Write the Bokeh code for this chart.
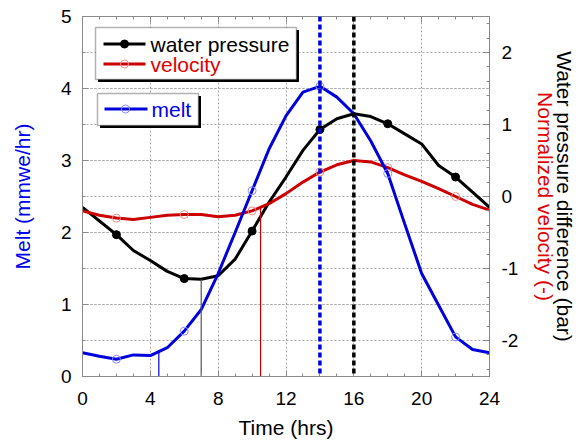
import numpy as np
from bokeh.plotting import figure
from bokeh.models import Range1d, LinearAxis, FixedTicker, Span, BoxAnnotation, Label, Arrow
from bokeh.embed import file_html
from bokeh.resources import INLINE

# ---------------- data ----------------
hours = list(range(25))
melt = [0.33, 0.28, 0.24, 0.30, 0.29, 0.40, 0.63, 0.93, 1.43, 2.00, 2.58, 3.16, 3.62,
        3.95, 4.03, 3.88, 3.65, 3.27, 2.82, 2.12, 1.43, 0.99, 0.55, 0.375, 0.33]
water_pressure = [-0.15, -0.34, -0.53, -0.75, -0.89, -1.04, -1.14, -1.15, -1.10, -0.87, -0.48,
                  -0.08, 0.27, 0.64, 0.93, 1.08, 1.15, 1.11, 1.01, 0.87, 0.73, 0.43, 0.27, 0.06, -0.15]
velocity = [-0.20, -0.26, -0.30, -0.32, -0.29, -0.26, -0.25, -0.25, -0.28, -0.26, -0.20, -0.10,
            0.04, 0.20, 0.34, 0.44, 0.50, 0.48, 0.40, 0.30, 0.21, 0.11, 0.00, -0.11, -0.19]
marker_hours = [2, 6, 10, 14, 18, 22]
onset_melt = 4.5
onset_pressure = 7.0
onset_velocity = 10.5
peak_melt = 14
peak_pressure = 16
x_ticks = [0, 4, 8, 12, 16, 20, 24]
left_ticks = [0, 1, 2, 3, 4, 5]
right_ticks = [-2, -1, 0, 1, 2]
right_tick_labels = ["-2", "-1", "0", "1", "2"]

# ---------------- style ----------------
FONT = "Liberation Sans"
BLUE = "#0000dd"
BLUE_TXT = "#0000ee"
RED = "#cc0000"
RED_TXT = "#e00000"
BLACK = "#000000"
AXIS_GRAY = "#8a8a8a"
GRID_GRAY = "#a8a8a8"

W, H = 578, 441
MB_L, MB_R, MB_T, MB_B = 82, 89, 16, 65
FW = W - MB_L - MB_R
FH = H - MB_T - MB_B

p = figure(width=W, height=H, x_range=Range1d(0, 24), y_range=Range1d(0, 5),
           output_backend="svg", toolbar_location=None,
           min_border_left=MB_L, min_border_right=MB_R, min_border_top=MB_T, min_border_bottom=MB_B)
p.extra_y_ranges = {"right": Range1d(-2.5, 2.5)}
p.outline_line_color = AXIS_GRAY
p.background_fill_color = "white"
p.border_fill_color = "white"

# grid
p.xgrid.ticker = FixedTicker(ticks=x_ticks)
p.ygrid.ticker = FixedTicker(ticks=left_ticks, minor_ticks=[v / 2 for v in range(11)])
for g in (p.xgrid[0], p.ygrid[0]):
    g.grid_line_color = GRID_GRAY
    g.grid_line_dash = "2 2"
    g.grid_line_width = 1
p.ygrid.minor_grid_line_color = GRID_GRAY
p.ygrid.minor_grid_line_dash = "2 2"


def style_axis(ax):
    ax.axis_line_color = AXIS_GRAY
    ax.major_tick_line_color = AXIS_GRAY
    ax.minor_tick_line_color = AXIS_GRAY
    ax.major_tick_in = 6
    ax.major_tick_out = 0
    ax.minor_tick_in = 3
    ax.minor_tick_out = 0
    ax.major_label_text_font = FONT
    ax.major_label_text_font_size = "19px"
    ax.major_label_text_color = "black"
    ax.axis_label_text_font = FONT
    ax.axis_label_text_font_size = "21px"
    ax.axis_label_text_font_style = "normal"


xa = p.xaxis[0]
style_axis(xa)
xa.ticker = FixedTicker(ticks=x_ticks, minor_ticks=hours)
xa.axis_label = "Time (hrs)"
xa.axis_label_text_color = "black"
xa.major_label_standoff = 15
xa.axis_label_standoff = 8

ya = p.yaxis[0]
style_axis(ya)
ya.ticker = FixedTicker(ticks=left_ticks, minor_ticks=[v / 2 for v in range(11)])
ya.axis_label = "Melt (mmwe/hr)"
ya.axis_label_text_color = BLUE_TXT
ya.major_label_standoff = 11
ya.axis_label_standoff = 24

top = LinearAxis(ticker=FixedTicker(ticks=x_ticks, minor_ticks=hours))
style_axis(top)
top.major_label_overrides = {t: "" for t in x_ticks}
top.major_label_standoff = 0
p.add_layout(top, "above")

ra = LinearAxis(y_range_name="right",
                ticker=FixedTicker(ticks=right_ticks,
                                   minor_ticks=[round(-2.4 + 0.2 * i, 1) for i in range(25)]))
style_axis(ra)
ra.major_label_overrides = dict(zip(right_ticks, right_tick_labels))
ra.axis_label = "Normalized velocity (-)"
ra.axis_label_text_color = RED_TXT
ra.major_label_standoff = 12
ra.axis_label_standoff = 13
p.add_layout(ra, "right")

ra2 = LinearAxis(y_range_name="right", ticker=FixedTicker(ticks=[]))
style_axis(ra2)
ra2.axis_line_color = None
ra2.major_tick_line_color = None
ra2.minor_tick_line_color = None
ra2.major_tick_in = 0
ra2.minor_tick_in = 0
ra2.major_label_standoff = 0
ra2.major_label_text_font_size = "0px"
ra2.axis_label = "Water pressure difference (bar)"
ra2.axis_label_text_color = BLACK
ra2.axis_label_standoff = -8
p.add_layout(ra2, "right")

# ---------------- series ----------------
mk_idx = [hours.index(h) for h in marker_hours]

p.line(hours, water_pressure, y_range_name="right", line_color=BLACK, line_width=3)
p.scatter(marker_hours, [water_pressure[i] for i in mk_idx], y_range_name="right",
          marker="circle", size=8, fill_color=BLACK, line_color=BLACK)

p.line(hours, velocity, y_range_name="right", line_color=RED, line_width=3)
p.scatter(marker_hours, [velocity[i] for i in mk_idx], y_range_name="right",
          marker="circle", size=8, fill_color=None, line_color="#f08a8a", line_width=1)

p.line(hours, melt, line_color=BLUE, line_width=3)
p.scatter(marker_hours, [melt[i] for i in mk_idx], marker="circle", size=8,
          fill_color=None, line_color="#8a8aff", line_width=1)

# onset markers (thin vertical lines up to each curve)
p.segment(x0=[onset_melt], y0=[0], x1=[onset_melt], y1=[float(np.interp(onset_melt, hours, melt))],
          line_color=BLUE, line_width=1.2)
p.segment(x0=[onset_pressure], y0=[-2.5], x1=[onset_pressure],
          y1=[float(np.interp(onset_pressure, hours, water_pressure))],
          y_range_name="right", line_color="#555555", line_width=1.2)
p.segment(x0=[onset_velocity], y0=[-2.5], x1=[onset_velocity],
          y1=[float(np.interp(onset_velocity, hours, velocity))],
          y_range_name="right", line_color=RED, line_width=1.2)

# peak markers
p.add_layout(Span(location=peak_melt, dimension="height", line_color=BLUE,
                  line_width=3.5, line_dash="5 3"))
p.add_layout(Span(location=peak_pressure, dimension="height", line_color=BLACK,
                  line_width=3.5, line_dash="5 3"))


# ---------------- legends (layout in px offsets from frame top-left) ----------------
def dx(px):
    return px * 24.0 / FW


def dy(px):
    return 5.0 - px * 5.0 / FH


SH = 2.5  # shadow offset px


def legend_box(l, r, t, b):
    p.add_layout(BoxAnnotation(left=dx(l + SH), right=dx(r + SH), top=dy(t + SH), bottom=dy(b + SH),
                               fill_color="black", fill_alpha=1, line_color=None))
    p.add_layout(BoxAnnotation(left=dx(l), right=dx(r), top=dy(t), bottom=dy(b),
                               fill_color="white", fill_alpha=1, line_color="black", line_width=1.5))


def legend_entry(x0, x1, xm, yy, xt, color, text, text_color, filled, mcolor):
    p.add_layout(Arrow(end=None, x_start=dx(x0), x_end=dx(x1), y_start=dy(yy), y_end=dy(yy),
                       line_color=color, line_width=3))
    p.scatter([dx(xm)], [dy(yy)], marker="circle", size=8, level="overlay",
              fill_color=mcolor if filled else None, line_color=mcolor, line_width=1)
    p.add_layout(Label(x=dx(xt), y=dy(yy), text=text, text_baseline="middle",
                       text_font=FONT, text_font_size="21px", text_color=text_color))


legend_box(13, 214, 11, 63)
legend_entry(21, 63, 42, 27.5, 68, BLACK, "water pressure", BLACK, True, BLACK)
legend_entry(21, 63, 42, 47.5, 68, RED, "velocity", RED_TXT, False, "#f08a8a")

legend_box(15, 116, 77, 109)
legend_entry(22, 65, 43, 92.5, 69, BLUE, "melt", BLUE_TXT, False, "#8a8aff")

open("out.html", "w").write(file_html(p, INLINE))
